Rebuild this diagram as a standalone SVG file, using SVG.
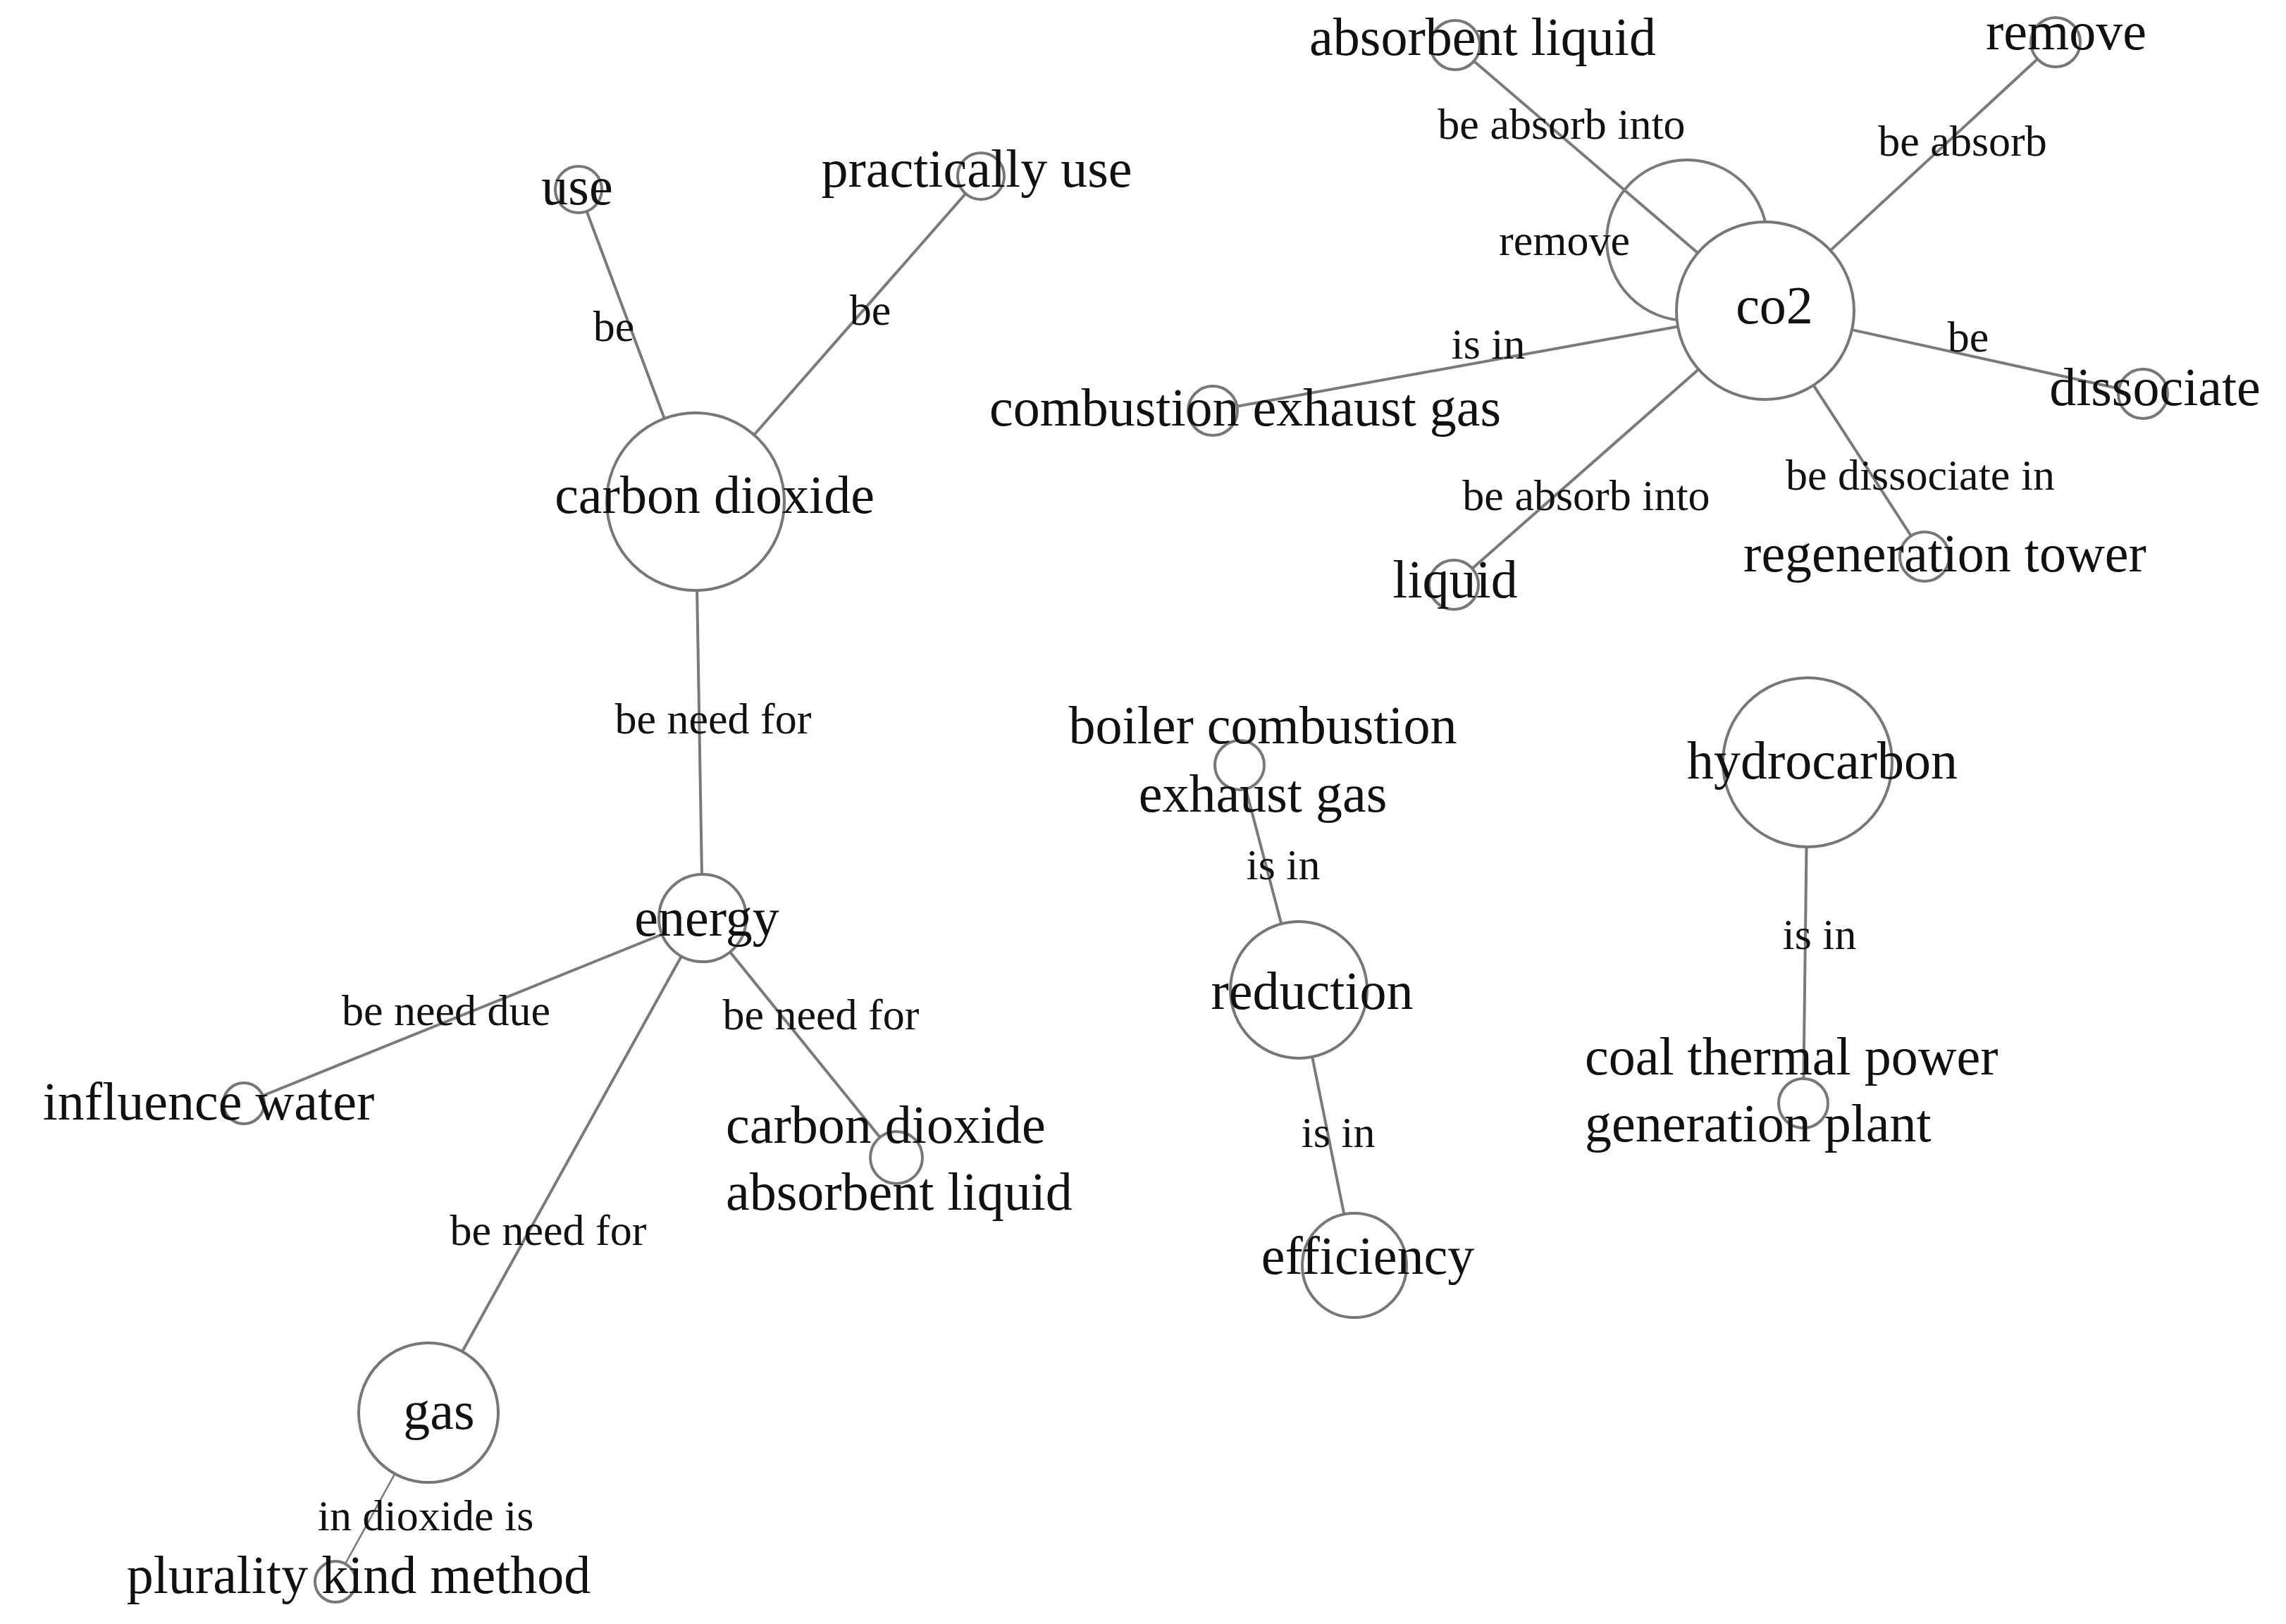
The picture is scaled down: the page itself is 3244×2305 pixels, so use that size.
<svg xmlns="http://www.w3.org/2000/svg" width="3244" height="2305" viewBox="0 0 3244 2305">
<style>
.e{stroke:#7a7a7a;stroke-width:4;fill:none}
.n{fill:#fff;stroke:#777;stroke-width:4}
.t{font-family:"Liberation Serif",serif;font-size:76px;fill:#111;text-anchor:middle}
.l{font-family:"Liberation Serif",serif;font-size:62px;fill:#111;text-anchor:middle}
.s{text-anchor:start}
</style>
<rect width="3244" height="2305" fill="#fff"/>
<g id="connectors">
<line class="e" x1="821" y1="269" x2="987" y2="712"/>
<line class="e" x1="1392" y1="250" x2="987" y2="712"/>
<line class="e" x1="987" y1="712" x2="997" y2="1303"/>
<line class="e" x1="997" y1="1303" x2="346" y2="1566"/>
<line class="e" x1="997" y1="1303" x2="1272" y2="1643"/>
<line class="e" x1="997" y1="1303" x2="608" y2="2005"/>
<line class="e" style="stroke-width:2.5" x1="608" y1="2005" x2="476" y2="2245"/>
<line class="e" x1="2505" y1="441" x2="2065" y2="64"/>
<line class="e" x1="2505" y1="441" x2="2917" y2="60"/>
<line class="e" x1="2505" y1="441" x2="3041" y2="559"/>
<line class="e" x1="2505" y1="441" x2="1721" y2="583"/>
<line class="e" x1="2505" y1="441" x2="2063" y2="830"/>
<line class="e" x1="2505" y1="441" x2="2731" y2="790"/>
<circle class="e" cx="2394" cy="341" r="114"/>
<line class="e" x1="1759" y1="1086" x2="1843" y2="1405"/>
<line class="e" x1="1843" y1="1405" x2="1922" y2="1796"/>
<line class="e" x1="2565" y1="1082" x2="2559" y2="1566"/>
<text class="l" x="871" y="484">be</text>
<text class="l" x="1235" y="461">be</text>
<text class="l" x="1012" y="1041">be need for</text>
<text class="l" x="633" y="1455">be need due</text>
<text class="l" x="1165" y="1461">be need for</text>
<text class="l" x="778" y="1767">be need for</text>
<text class="l" x="604" y="2172">in dioxide is</text>
<text class="l" x="2216" y="197">be absorb into</text>
<text class="l" x="2785" y="221">be absorb</text>
<text class="l" x="2220" y="362">remove</text>
<text class="l" x="2112" y="509">is in</text>
<text class="l" x="2793" y="499">be</text>
<text class="l" x="2251" y="724">be absorb into</text>
<text class="l" x="2725" y="695">be dissociate in</text>
<text class="l" x="1821" y="1248">is in</text>
<text class="l" x="1899" y="1628">is in</text>
<text class="l" x="2582" y="1347">is in</text>
</g>
<g id="use"><circle class="n" cx="821" cy="269" r="33"/><text class="t" x="819" y="290">use</text></g>
<g id="practically-use"><circle class="n" cx="1392" cy="250" r="33"/><text class="t" x="1386" y="265">practically use</text></g>
<g id="carbon-dioxide"><circle class="n" cx="987" cy="712" r="126"/><text class="t" x="1014" y="728">carbon dioxide</text></g>
<g id="energy"><circle class="n" cx="997" cy="1303" r="62"/><text class="t" x="1003" y="1328">energy</text></g>
<g id="influence-water"><circle class="n" cx="346" cy="1566" r="29"/><text class="t" x="296" y="1589">influence water</text></g>
<g id="cdal"><circle class="n" cx="1272" cy="1643" r="37"/><text class="t s" x="1030" y="1622">carbon dioxide</text><text class="t s" x="1030" y="1717">absorbent liquid</text></g>
<g id="gas"><circle class="n" cx="608" cy="2005" r="99"/><text class="t" x="623" y="2028">gas</text></g>
<g id="plurality"><circle class="n" cx="476" cy="2245" r="29"/><text class="t" x="509" y="2261">plurality kind method</text></g>
<g id="co2"><circle class="n" cx="2505" cy="441" r="126"/><text class="t" x="2518" y="459">co2</text></g>
<g id="absorbent-liquid"><circle class="n" cx="2065" cy="64" r="35"/><text class="t" x="2104" y="78">absorbent liquid</text></g>
<g id="remove"><circle class="n" cx="2917" cy="60" r="35"/><text class="t" x="2932" y="70">remove</text></g>
<g id="dissociate"><circle class="n" cx="3041" cy="559" r="35"/><text class="t" x="3058" y="575">dissociate</text></g>
<g id="ceg"><circle class="n" cx="1721" cy="583" r="35"/><text class="t" x="1767" y="604">combustion exhaust gas</text></g>
<g id="liquid"><circle class="n" cx="2063" cy="830" r="35"/><text class="t" x="2065" y="848">liquid</text></g>
<g id="regeneration-tower"><circle class="n" cx="2731" cy="790" r="35"/><text class="t" x="2760" y="811">regeneration tower</text></g>
<g id="boiler"><circle class="n" cx="1759" cy="1086" r="35"/><text class="t" x="1792" y="1055">boiler combustion</text><text class="t" x="1792" y="1152">exhaust gas</text></g>
<g id="reduction"><circle class="n" cx="1843" cy="1405" r="97"/><text class="t" x="1862" y="1432">reduction</text></g>
<g id="efficiency"><circle class="n" cx="1922" cy="1796" r="74"/><text class="t" x="1941" y="1808">efficiency</text></g>
<g id="hydrocarbon"><circle class="n" cx="2565" cy="1082" r="120"/><text class="t" x="2586" y="1105">hydrocarbon</text></g>
<g id="coal"><circle class="n" cx="2559" cy="1566" r="35"/><text class="t s" x="2249" y="1525">coal thermal power</text><text class="t s" x="2249" y="1620">generation plant</text></g>
</svg>
